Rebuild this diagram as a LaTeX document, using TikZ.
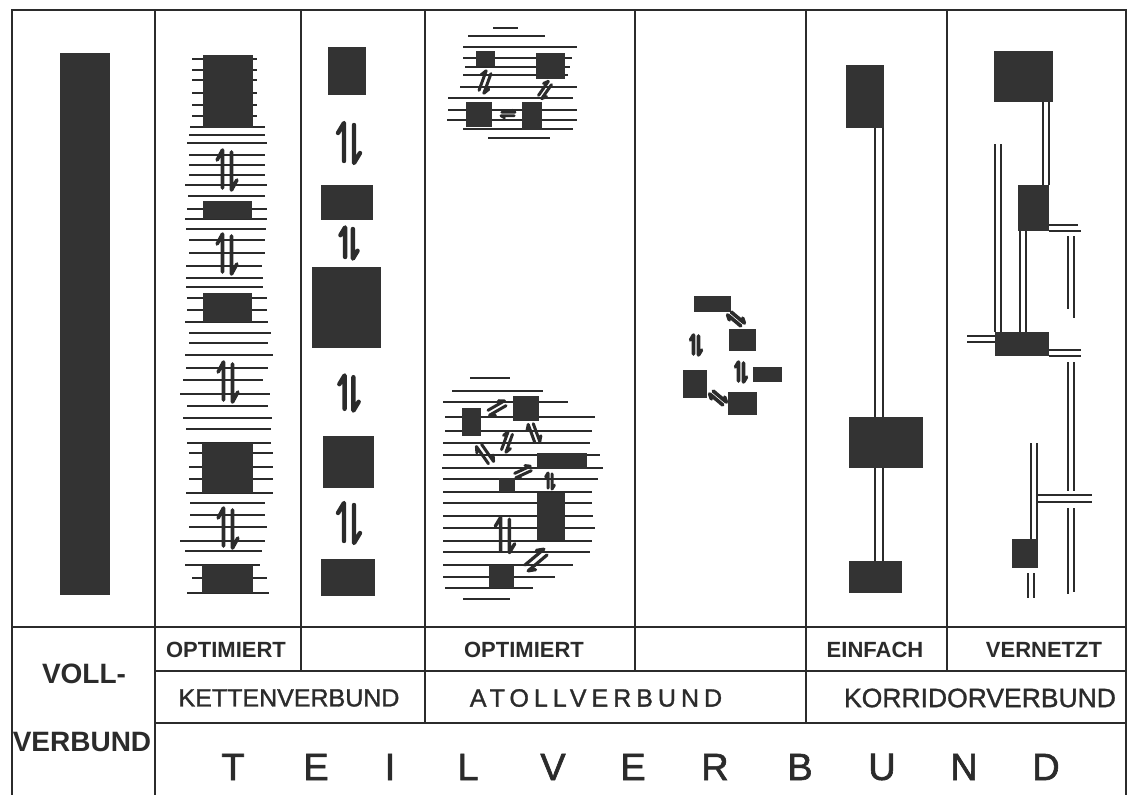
\documentclass[tikz,border=0pt]{standalone}
\usepackage{fontspec}
\setmainfont{Liberation Sans}
\definecolor{ink}{HTML}{2B2B2B}
\definecolor{blk}{HTML}{333333}
\tikzset{
  frameline/.style={line width=2.2pt, draw=ink},
  hatch/.style={line width=1.7pt, draw=ink},
  dbl/.style={line width=1.9pt, draw=ink},
  harp/.pic={
    \draw[line cap=round,line join=round] (-5,18) -- (-5,-20) -- (-11,-10);
    \draw[line cap=round,line join=round] (5,-18) -- (5,20) -- (11,10);
  },
  hp/.style={draw=ink, line width=3.6pt},
  small/.style={font=\bfseries\fontsize{22}{22}\selectfont, text=ink, inner sep=0pt},
  mid/.style={font=\fontsize{25}{25}\selectfont\addfontfeature{FakeBold=1.2}, text=ink, inner sep=0pt},
  big/.style={font=\fontsize{38}{38}\selectfont\addfontfeature{FakeBold=1.6}, text=ink, inner sep=0pt},
  vol/.style={font=\bfseries\fontsize{28}{28}\selectfont, text=ink, inner sep=0pt}
}
\newcommand\myblock[4]{\fill[blk] (#1,#2) rectangle (#3,#4);}
\begin{document}
\begin{tikzpicture}[x=1pt,y=-1pt]
\useasboundingbox (0,0) rectangle (1128,795);
\fill[white] (0,0) rectangle (1128,795);

% ---------- frame ----------
\draw[frameline] (12,795) -- (12,10) -- (1126,10) -- (1126,795);
\draw[frameline] (12,627) -- (1126,627);
\draw[frameline] (155,671) -- (1126,671);
\draw[frameline] (155,723) -- (1126,723);
\draw[frameline] (155,10) -- (155,795);
\foreach \xx in {301,635,947} \draw[frameline] (\xx,10) -- (\xx,671);
\foreach \xx in {425,806} \draw[frameline] (\xx,10) -- (\xx,723);

% ---------- column 1: Vollverbund ----------
\myblock{60}{53}{110}{595}

% ---------- column 2: Kettenverbund optimiert ----------
\foreach \a/\b/\c in {192/257/59,192/257/70,192/257/80,192/257/93,192/257/105,192/257/116,190/265/127,
  189/265/135,187/267/143,189/265/155,189/265/165,189/265/175,185/267/185,188/265/196,
  187/267/209,185/267/219,
  186/266/229,189/265/240,189/265/253,186/262/266,186/263/278,186/263/287,
  187/267/298,187/267/310,185/268/322,
  189/271/333,189/268/343,185/273/355,186/268/368,183/263/380,180/270/394,187/268/406,183/272/418,186/271/429,187/271/443,
  189/273/453,189/273/467,189/273/479,186/273/493,
  190/265/503,190/265/515,189/267/527,180/265/541,185/262/551,
  185/260/565,192/267/578,187/269/593}
  \draw[hatch] (\a,\c) -- (\b,\c);
\myblock{203}{55}{253}{128}
\myblock{203}{201}{252}{219}
\myblock{203}{293}{252}{322}
\myblock{202}{443}{253}{493}
\myblock{202}{565}{253}{593}
\pic[hp, xscale=0.9] at (227,170) {harp};
\pic[hp, xscale=0.9] at (227,254) {harp};
\pic[hp, xscale=0.9] at (228,382) {harp};
\pic[hp, xscale=0.9] at (228,528) {harp};

% ---------- column 3: Kettenverbund ----------
\myblock{328}{47}{366}{95}
\myblock{321}{185}{373}{220}
\myblock{312}{267}{381}{348}
\myblock{323}{436}{374}{488}
\myblock{321}{559}{375}{596}
\pic[hp, line width=4.4pt] at (349,143) {harp};
\pic[hp, line width=4.4pt, scale=0.78] at (349,243) {harp};
\pic[hp, line width=4.4pt, scale=0.88] at (349,393) {harp};
\pic[hp, line width=4.4pt] at (349,523) {harp};

% ---------- column 4: Atollverbund optimiert ----------
\foreach \a/\b/\c in {493/518/28,468/545/36,463/577/47,463/572/58,465/570/67,463/568/75,460/577/87,
  448/573/98,448/577/110,447/577/120,463/573/129,488/550/138}
  \draw[hatch] (\a,\c) -- (\b,\c);
\myblock{476}{51}{495}{66}
\myblock{536}{53}{565}{79}
\myblock{466}{102}{492}{127}
\myblock{522}{102}{542}{130}
\pic[hp, line width=3pt, scale=0.55, rotate=-20] at (485,82) {harp};
\pic[hp, line width=3pt, scale=0.45, rotate=-35] at (545,90) {harp};
\pic[hp, line width=2.8pt, scale=0.35, rotate=90] at (508,114) {harp};

\foreach \a/\b/\c in {470/510/378,452/543/391,443/568/402,445/595/417,445/592/431,443/590/443,443/600/455,
  442/603/468,443/598/479,443/592/492,443/592/503,443/593/516,443/595/528,443/592/541,443/590/552,
  443/573/565,443/555/577,445/533/588,463/510/599}
  \draw[hatch] (\a,\c) -- (\b,\c);
\myblock{462}{408}{481}{436}
\myblock{513}{396}{539}{421}
\myblock{537}{453}{587}{469}
\myblock{499}{478}{515}{492}
\myblock{537}{493}{565}{540}
\myblock{489}{565}{514}{588}
\pic[hp, line width=3pt, scale=0.5, rotate=-60] at (497,408) {harp};
\pic[hp, line width=3pt, scale=0.5, rotate=-20] at (507,442) {harp};
\pic[hp, line width=3pt, scale=0.55, rotate=35] at (485,454) {harp};
\pic[hp, line width=3pt, scale=0.5, rotate=20] at (534,433) {harp};
\pic[hp, line width=3pt, scale=0.45, rotate=-65] at (523,472) {harp};
\pic[hp, line width=3pt, scale=0.4] at (550,481) {harp};
\pic[hp, line width=3.4pt, scale=0.88] at (505,535) {harp};
\pic[hp, line width=3.2pt, scale=0.65, rotate=-50] at (536,560) {harp};

% ---------- column 5: Atollverbund ----------
\myblock{694}{296}{731}{312}
\myblock{729}{329}{756}{351}
\myblock{683}{370}{707}{398}
\myblock{753}{367}{782}{382}
\myblock{728}{392}{757}{415}
\pic[hp, line width=3.6pt, scale=0.45, rotate=50] at (736,319) {harp};
\pic[hp, line width=3.6pt, scale=0.5] at (696,345) {harp};
\pic[hp, line width=3.6pt, scale=0.5] at (741,372) {harp};
\pic[hp, line width=3.6pt, scale=0.45, rotate=50] at (718,398) {harp};

% ---------- column 6: Korridorverbund einfach ----------
\draw[dbl] (875,128) -- (875,561);
\draw[dbl] (883,128) -- (883,561);
\myblock{846}{65}{884}{128}
\myblock{849}{417}{923}{468}
\myblock{849}{561}{902}{593}

% ---------- column 7: Korridorverbund vernetzt ----------
\draw[dbl] (1043,102) -- (1043,185);
\draw[dbl] (1049,102) -- (1049,185);
\draw[dbl] (995,144) -- (995,332);
\draw[dbl] (1001,144) -- (1001,332);
\draw[dbl] (1049,225) -- (1078,225);
\draw[dbl] (1049,231) -- (1081,231);
\draw[dbl] (1068,236) -- (1068,309);
\draw[dbl] (1074,236) -- (1074,318);
\draw[dbl] (1020,231) -- (1020,332);
\draw[dbl] (1026,231) -- (1026,332);
\draw[dbl] (967,336) -- (995,336);
\draw[dbl] (967,342) -- (995,342);
\draw[dbl] (1049,350) -- (1081,350);
\draw[dbl] (1049,356) -- (1081,356);
\draw[dbl] (1068,362) -- (1068,491);
\draw[dbl] (1074,362) -- (1074,491);
\draw[dbl] (1038,495) -- (1092,495);
\draw[dbl] (1038,502) -- (1092,502);
\draw[dbl] (1068,508) -- (1068,594);
\draw[dbl] (1074,508) -- (1074,592);
\draw[dbl] (1031,443) -- (1031,539);
\draw[dbl] (1037,443) -- (1037,539);
\draw[dbl] (1028,573) -- (1028,598);
\draw[dbl] (1034,573) -- (1034,598);
\myblock{994}{51}{1053}{102}
\myblock{1018}{185}{1049}{231}
\myblock{995}{332}{1049}{356}
\myblock{1012}{539}{1038}{568}

% ---------- labels ----------
\node[small] (opt1) at (226,650) {OPTIMIERT};
\node[small] (opt2) at (524,650) {OPTIMIERT};
\node[small] (einf) at (875,650) {EINFACH};
\node[small] (vern) at (1044,650) {VERNETZT};
\node[mid] (kett) at (289,698) {KETTENVERBUND};
\node[mid] (atol) at (596,698) {\addfontfeature{LetterSpace=20}ATOLLVERBUND};
\node[mid, font=\fontsize{26.5}{26.5}\selectfont\addfontfeature{FakeBold=1.2}] (korr) at (980,698) {KORRIDORVERBUND};
\node[vol] (voll) at (84,674) {VOLL-};
\node[vol] (verb) at (82,742) {VERBUND};
\foreach \ch/\xx [count=\i] in {T/233,E/316,I/390,L/468,V/553,E/633,R/715,B/800,U/882,N/964,D/1046}
  \node[big] (t\i) at (\xx,767) {\ch};
\end{tikzpicture}
\end{document}
